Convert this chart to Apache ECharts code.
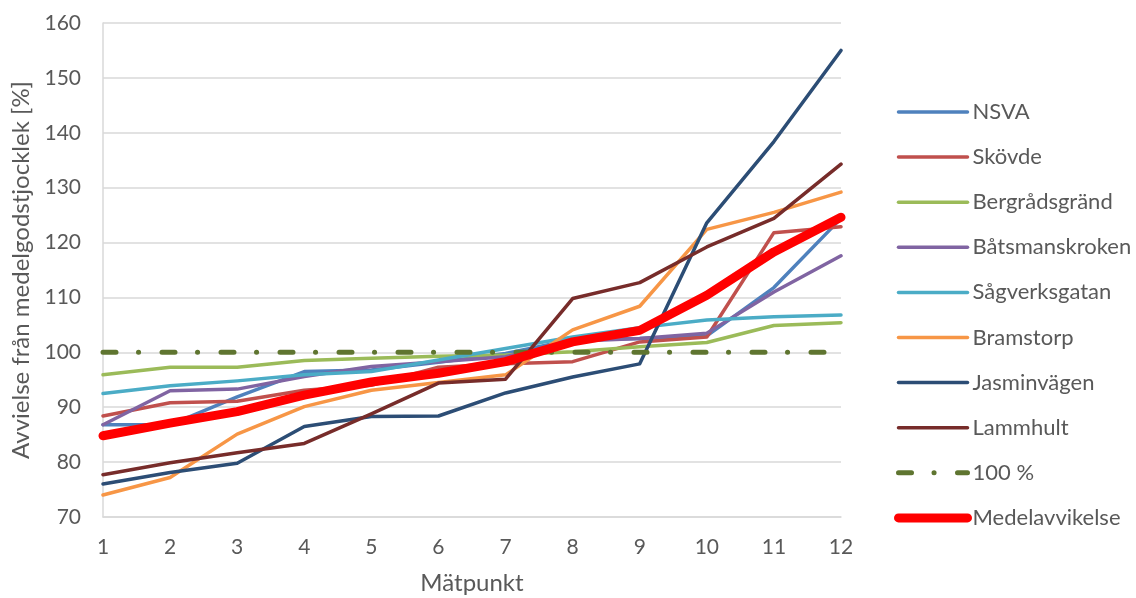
<!DOCTYPE html>
<html>
<head>
<meta charset="utf-8">
<script src="https://cdn.jsdelivr.net/npm/echarts@6/dist/echarts.min.js"></script>
<style>
  html, body { margin: 0; padding: 0; background: #fff; }
  #chart { width: 1136px; height: 598px; }
</style>
</head>
<body>
<div id="chart"></div>
<script>
// Measuring points 1..12
const categories = ['1', '2', '3', '4', '5', '6', '7', '8', '9', '10', '11', '12'];

// Deviation from mean wall thickness [%] per site
const nsva           = [86.8, 86.8, 91.9, 96.5, 96.8, 98.2, 99.8, 102.3, 102.5, 103.0, 111.8, 124.4];
const skovde         = [88.4, 90.8, 91.1, 93.1, 94.0, 97.3, 97.9, 98.3, 101.9, 102.8, 121.8, 122.9];
const bergradsgrand  = [95.9, 97.3, 97.3, 98.5, 98.9, 99.3, 99.5, 100.1, 101.0, 101.8, 104.9, 105.4];
const batsmanskroken = [86.8, 93.0, 93.3, 95.6, 97.4, 98.3, 99.2, 102.0, 102.5, 103.5, 111.0, 117.6];
const sagverksgatan  = [92.5, 93.9, 94.8, 95.9, 96.5, 98.6, 100.7, 102.8, 104.5, 105.9, 106.5, 106.8];
const bramstorp      = [74.0, 77.2, 85.1, 90.1, 93.1, 94.5, 95.9, 104.1, 108.4, 122.4, 125.5, 129.2];
const jasminvagen    = [76.0, 78.1, 79.8, 86.5, 88.3, 88.4, 92.6, 95.5, 97.9, 123.6, 138.4, 155.0];
const lammhult       = [77.7, 79.9, 81.7, 83.4, 88.8, 94.4, 95.1, 109.8, 112.7, 119.2, 124.4, 134.3];
const reference100   = [100, 100, 100, 100, 100, 100, 100, 100, 100, 100, 100, 100];
const medelavvikelse = [84.8, 87.1, 89.2, 92.2, 94.6, 96.2, 98.3, 101.9, 104.0, 110.4, 118.3, 124.6];

const yTicks = { min: 70, max: 160, interval: 10 };

const FONT = 'Lato';
const TEXT = '#595959';
const GRID = '#d9d9d9';

function siteLine(name, data, color) {
  return {
    name, type: 'line', data,
    symbol: 'none', showSymbol: false,
    lineStyle: { color, width: 3.5, cap: 'round', join: 'round' },
    itemStyle: { color },
    z: 2
  };
}

const series = [
  siteLine('NSVA', nsva, '#4F81BD'),
  siteLine('Skövde', skovde, '#C0504D'),
  siteLine('Bergrådsgränd', bergradsgrand, '#9BBB59'),
  siteLine('Båtsmanskroken', batsmanskroken, '#8064A2'),
  siteLine('Sågverksgatan', sagverksgatan, '#4BACC6'),
  siteLine('Bramstorp', bramstorp, '#F79646'),
  siteLine('Jasminvägen', jasminvagen, '#2C4D75'),
  siteLine('Lammhult', lammhult, '#772C2A'),
  {
    name: '100 %', type: 'line', data: reference100,
    symbol: 'none', showSymbol: false,
    lineStyle: { color: '#5F7530', width: 5, type: [13, 22.5, 0.1, 23.4], cap: 'round' },
    itemStyle: { color: '#5F7530' },
    z: 3
  },
  {
    name: 'Medelavvikelse', type: 'line', data: medelavvikelse,
    symbol: 'none', showSymbol: false,
    lineStyle: { color: '#FF0000', width: 9, cap: 'round', join: 'round' },
    itemStyle: { color: '#FF0000' },
    z: 4
  }
];

const chart = echarts.init(document.getElementById('chart'), null, { renderer: 'canvas' });
chart.setOption({
  animation: false,
  backgroundColor: '#ffffff',
  textStyle: { fontFamily: FONT, color: TEXT },
  grid: { left: 103, right: 295, top: 23, bottom: 81, containLabel: false, outerBoundsMode: 'none' },
  legend: {
    orient: 'vertical',
    left: 889,
    top: 96,
    itemWidth: 69,
    itemHeight: 20,
    itemGap: 23.1,
    itemStyle: { opacity: 0 },
    lineStyle: { width: 'inherit', type: 'inherit', cap: 'round' },
    textStyle: { fontFamily: FONT, fontSize: 22, lineHeight: 20, color: TEXT },
    data: series.map(s => s.name)
  },
  xAxis: {
    type: 'category',
    data: categories,
    boundaryGap: false,
    name: 'Mätpunkt',
    nameLocation: 'middle',
    nameGap: 54,
    nameTextStyle: { fontFamily: FONT, fontSize: 24, color: TEXT },
    axisLine: { lineStyle: { color: GRID, width: 1.5 } },
    axisTick: { show: false },
    axisLabel: { fontFamily: FONT, fontSize: 21, color: TEXT, margin: 20 },
    splitLine: { show: false }
  },
  yAxis: {
    type: 'value',
    min: yTicks.min, max: yTicks.max, interval: yTicks.interval,
    name: 'Avvielse från medelgodstjocklek [%]',
    nameLocation: 'middle',
    nameGap: 69,
    nameTextStyle: { fontFamily: FONT, fontSize: 24, color: TEXT },
    axisLine: { show: true, lineStyle: { color: GRID, width: 1.5 } },
    axisTick: { show: false },
    axisLabel: { fontFamily: FONT, fontSize: 21, color: TEXT, margin: 22 },
    splitLine: { show: true, lineStyle: { color: GRID, width: 1.5 } }
  },
  series
});
</script>
</body>
</html>
